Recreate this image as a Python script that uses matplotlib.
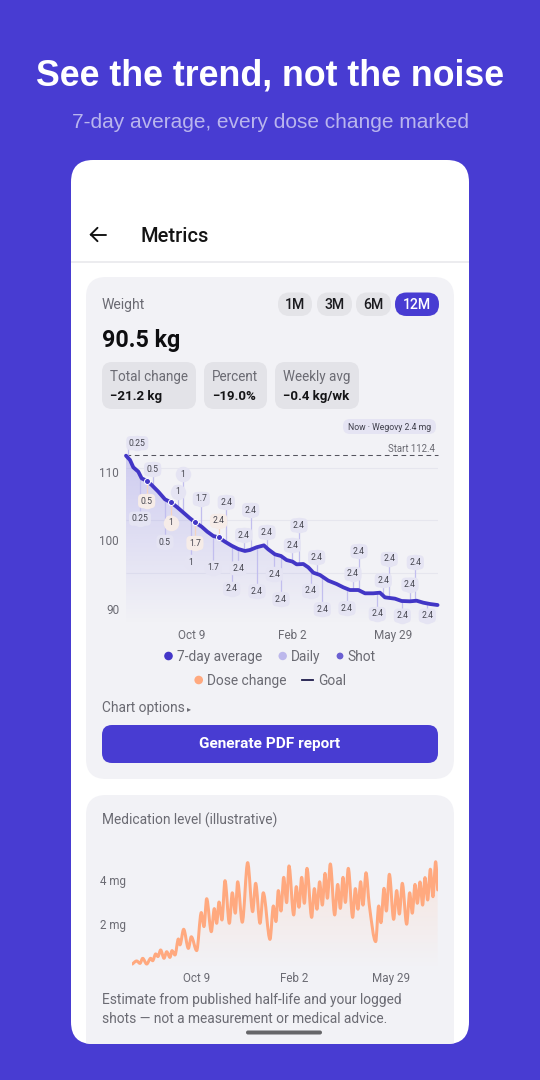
import numpy as np
import matplotlib
matplotlib.use("Agg")
import matplotlib.pyplot as plt
from matplotlib.patches import FancyBboxPatch, PathPatch, Circle
from matplotlib.path import Path
from matplotlib.colors import to_rgb

plt.rcParams['font.family'] = ['Roboto', 'DejaVu Sans']

# ---------- data ----------
avg_days = [0, 4.6, 8.4, 14.1, 18, 23.7, 29.5, 37.1, 44.8, 51.7, 59, 67.8, 73.5, 80, 86.9, 93.4, 100.3, 106.4,
            113.7, 121.4, 129, 136.7, 142.4, 150.1, 158.5, 163.5, 171.2, 178.1, 184.6, 191.5, 196.1, 203.8,
            209.5, 215.3, 223, 232.5, 242.1, 249.8, 257.4, 267, 274.7, 284.2, 291.9, 297.6, 309.1, 316.8,
            326.4, 334, 341.7, 349.3, 358.1]
avg_kg = [112.37, 111.74, 110.67, 110.04, 109.06, 108.72, 108.09, 107.12, 106.0, 105.56, 104.83, 103.86, 103.23,
          102.59, 102.01, 101.28, 100.65, 100.45, 99.82, 99.23, 98.75, 98.46, 98.6, 99.0, 99.28, 98.7, 97.97,
          97.73, 97.14, 96.9, 96.51, 96.56, 96.07, 95.29, 94.95, 94.13, 93.64, 93.15, 92.76, 92.76, 92.28,
          92.28, 92.37, 91.69, 91.5, 91.16, 91.11, 91.2, 90.91, 90.72, 90.57]

shot_days = [2.6, 16, 23.7, 30.6, 44.8, 51.3, 59.3, 65.1, 74.3, 79.2, 86.5, 100.3, 106.4, 115.2, 121.4, 129, 135.2,
             143.2, 150.5, 162, 170.5, 178.1, 191.2, 198.8, 212.2, 219.1, 225.6, 254, 260.9, 267.8, 288.8, 295.7,
             302.6, 317.6, 326.4, 332.5, 346.3]
shot_doses = ['0.25', '0.25', '0.5', '0.5', '0.5', '1', '1', '1', '1', '1.7', '1.7', '1.7', '2.4', '2.4', '2.4',
              '2.4', '2.4', '2.4', '2.4', '2.4', '2.4', '2.4', '2.4', '2.4', '2.4', '2.4', '2.4', '2.4', '2.4',
              '2.4', '2.4', '2.4', '2.4', '2.4', '2.4', '2.4', '2.4']
shot_label_kg = [114.2, 103.18, 105.75, 110.38, 99.77, 102.59, 107.07, 109.65, 96.8, 99.62, 106.05, 96.02, 102.84,
                 105.56, 92.91, 95.93, 100.79, 104.44, 92.57, 101.18, 95.05, 91.4, 99.28, 102.2, 92.62, 97.53,
                 89.94, 90.09, 95.1, 98.41, 89.26, 94.17, 97.29, 89.02, 93.54, 96.8, 89.02]
dose_change_days = [23.7, 51.3, 79.2, 106.4]
start_kg = 112.4
weight_grid = [110.6, 103.0, 95.3]
weight_yticks = [110, 100, 90]
date_ticks = [76, 191, 307]
date_labels = ['Oct 9', 'Feb 2', 'May 29']

med_days = [0.4, 5.6, 9.5, 12.7, 17.5, 22.2, 24.6, 28.2, 30.9, 34.1, 38.1, 41.3, 45.2, 47.6, 51.2, 55.2, 57.1, 61.5,
            67.1, 70.6, 77, 82.5, 85.7, 88.9, 94.4, 98, 100.8, 103.6, 107.1, 110.7, 115.9, 119.4, 123, 125.8, 131.3,
            137.7, 143.6, 147.2, 152.4, 156.3, 164.3, 168.3, 171.4, 174.2, 177.4, 180.6, 184.1, 186.9, 192.5,
            195.6, 198.8, 202, 205.2, 208.3, 213.9, 217.1, 220.2, 223.4, 226.6, 229.8, 232.6, 236.1, 241.3, 244.9,
            248, 251.2, 254, 257.5, 262.7, 265.9, 269, 272.2, 275, 278.6, 282.5, 290.1, 293.7, 296.4, 300, 302.8,
            306.4, 311.5, 315.1, 318.3, 321.8, 327, 330.6, 333.7, 336.9, 339.7, 342.9, 346, 348.8, 352, 355.2,
            358.3, 361.5, 363.9]
med_mg = [.18, .32, .21, .44, .18, .44, .33, .64, .52, .82, .44, .74, .48, .79, .59, 1.32, 1.05, 1.76, .89, 1.42, .79,
          2.52, 1.88, 3.15, 1.65, 2.7, 2.03, 3.0, 2.18, 3.97, 2.03, 3.42, 2.49, 3.92, 2.08, 4.79, 2.56, 3.85, 2.03,
          3.42, 1.3, 2.82, 2.11, 3.52, 2.59, 4.12, 2.97, 4.64, 2.41, 3.7, 2.76, 4.12, 2.94, 4.53, 2.3, 3.61, 2.67,
          3.92, 2.86, 4.3, 3.17, 4.73, 2.41, 3.8, 2.71, 4.12, 2.98, 4.53, 2.3, 3.61, 2.67, 3.92, 2.86, 4.33, 2.86,
          1.2, 2.82, 2.06, 3.62, 2.59, 4.26, 2.21, 3.52, 2.45, 3.85, 1.99, 3.42, 2.49, 3.8, 2.94, 3.91, 2.86, 4.11,
          3.09, 4.49, 3.24, 4.83, 3.55]
med_yticks = [4, 2]
med_ticklabels = ['4 mg', '2 mg']
med_date_ticks = [77, 193, 309]

# ---------- style ----------
INDIGO = '#483CD2'
LINE = '#4236C6'
GREY = '#6B6B73'
ORANGE = '#FFA97F'
PANEL = '#F2F2F6'
W, H = 540, 1080
DPI = 100
px = 72 / DPI

fig = plt.figure(figsize=(W / DPI, H / DPI), dpi=DPI, facecolor=INDIGO)
bg = fig.add_axes([0, 0, 1, 1], zorder=0)
bg.set_xlim(0, W)
bg.set_ylim(H, 0)
bg.axis('off')


def T(x, y, s, size, color=GREY, ha='left', weight='normal', family=None, ax=bg, **kw):
    if family:
        kw['family'] = family
    return ax.text(x, y + 1.3, s, fontsize=size * px, color=color, ha=ha, va='center', fontweight=weight, **kw)


def box(x0, y0, x1, y1, r, fc, z=1, ec='none', lw=0):
    p = FancyBboxPatch((x0, y0), x1 - x0, y1 - y0, boxstyle=f'round,pad=0,rounding_size={r}',
                       fc=fc, ec=ec, lw=lw, zorder=z)
    bg.add_patch(p)
    return p


def smooth(x, y):
    """Bezier path through the read points, flat at each peak and trough."""
    x, y = np.asarray(x, float), np.asarray(y, float)
    slope = np.diff(y) / np.diff(x)
    m = np.zeros_like(y)
    for i in range(1, len(x) - 1):
        if slope[i - 1] * slope[i] > 0:
            m[i] = 2 * slope[i - 1] * slope[i] / (slope[i - 1] + slope[i])
    m[0], m[-1] = slope[0], slope[-1]
    verts = [(x[0], y[0])]
    codes = [Path.MOVETO]
    for i in range(len(x) - 1):
        d = (x[i + 1] - x[i]) / 3
        verts += [(x[i] + d, y[i] + m[i] * d), (x[i + 1] - d, y[i + 1] - m[i + 1] * d), (x[i + 1], y[i + 1])]
        codes += [Path.CURVE4] * 3
    return verts, codes


def gradient_fill(ax, x, y, base, color, a_top, a_bot, z):
    v, c = smooth(x, y)
    v2 = v + [(x[-1], base), (x[0], base), (x[0], y[0])]
    c2 = c + [Path.LINETO, Path.LINETO, Path.CLOSEPOLY]
    n = 128
    rgba = np.ones((n, 1, 4))
    rgba[..., :3] = to_rgb(color)
    rgba[..., 3] = np.linspace(a_top, a_bot, n)[:, None]
    top = max(y)
    im = ax.imshow(rgba, extent=[x[0], x[-1], base, top], aspect='auto', origin='upper', zorder=z, interpolation='bilinear')
    im.set_clip_path(PathPatch(Path(v2, c2), transform=ax.transData))
    return im


# ---------- chrome ----------
T(270, 75, 'See the trend, not the noise', 35.8, 'white', 'center', 'bold', 'Liberation Sans')
T(270, 121.5, '7-day average, every dose change marked', 20.9, '#B9B5EE', 'center', family='Liberation Sans')

card = box(71, 160, 469, 1044, 22, 'white', 1)
bg.plot([71, 469], [262, 262], color='#ECECEF', lw=2 * px, zorder=2, solid_capstyle='butt')
bg.plot([91, 106], [234.5, 234.5], color='#111111', lw=1.9 * px, zorder=3, solid_capstyle='round')
bg.plot([97.5, 90.8, 97.5], [227.8, 234.5, 241.2], color='#111111', lw=1.9 * px, zorder=3,
        solid_capstyle='round', solid_joinstyle='miter')
T(141, 235, 'Metrics', 20, '#141414', zorder=3, weight='medium')

box(86, 277, 454, 779, 20, PANEL, 2)
c2 = box(86, 795, 454, 1080, 20, PANEL, 2)
c2.set_clip_path(card)

T(102, 304, 'Weight', 14, GREY, zorder=3)
for x0, x1, s, fc, col in [(278, 312, '1M', '#E4E4E8', '#1B1B1F'), (317, 352, '3M', '#E4E4E8', '#1B1B1F'),
                           (356, 391, '6M', '#E4E4E8', '#1B1B1F'), (395, 439, '12M', INDIGO, 'white')]:
    box(x0, 292.5, x1, 316, 11.5, fc, 3)
    T((x0 + x1) / 2, 304, s, 14, col, 'center', 'medium', zorder=4)
T(102, 339, '90.5 kg', 23.2, '#0E0E10', weight='bold', zorder=3)
for x0, x1, a, b in [(102, 196, 'Total change', '\u221221.2 kg'), (204, 267, 'Percent', '\u221219.0%'),
                     (275, 359, 'Weekly avg', '\u22120.4 kg/wk')]:
    box(x0, 362, x1, 409, 10, '#E3E3E8', 3)
    T(x0 + 8, 375.5, a, 13.5, GREY, zorder=4)
    T(x0 + 8, 395, b, 13.3, '#141416', weight='bold', zorder=4)

box(343, 419, 436, 434, 7, '#E5E4F3', 3)
T(389.5, 426, 'Now \u00b7 Wegovy 2.4 mg', 8.6, '#3E3E4A', 'center', zorder=4)
T(435, 448, 'Start 112.4', 9.6, GREY, 'right', zorder=4)

# ---------- weight chart ----------
X0, X1, Yt, Yb = 126, 438, 430, 624
ax = fig.add_axes([X0 / W, 1 - Yb / H, (X1 - X0) / W, (Yb - Yt) / H], zorder=3)
ax.patch.set_alpha(0)
for s in ax.spines.values():
    s.set_visible(False)
gradient_fill(ax, avg_days, avg_kg, 87.8, '#8F88E6', 0.36, 0.0, 1)
ax.set_xlim(0, 358.6)
ax.set_ylim(87.8, 116.12)
ax.hlines(weight_grid, 0, 358.6, color='#E6E6EE', lw=0.8, zorder=0.5)
ax.axhline(start_kg, color='#55555E', lw=0.75, dashes=(4.5, 3.5), zorder=2, clip_on=False)
ax.set_yticks(weight_yticks)
ax.set_xticks(date_ticks, date_labels)
ax.tick_params(length=0, labelcolor=GREY, labelsize=11.8 * px)
ax.tick_params(axis='y', pad=5)
ax.tick_params(axis='x', pad=3.6)

base = np.interp(shot_days, avg_days, avg_kg)
for d, b, l, s in zip(shot_days, base, shot_label_kg, shot_doses):
    change = d in dose_change_days
    fc = '#F6ECE8' if change else '#E5E4F3'
    ax.plot([d, d], [b, l], color='#F4D3C0' if change else '#C2BEEE', lw=0.9, zorder=2.2, clip_on=False)
    ax.plot([max(d, 13)], [l], 'o', ms=15.5 * px, mfc=fc, mec='none', zorder=2.4, clip_on=False)
    ax.annotate(s, xy=(max(d, 13), l), ha='center', va='center', fontsize=8.6 * px, color='#45454F',
                zorder=2.5, annotation_clip=False,
                bbox=dict(boxstyle='round,pad=0.3,rounding_size=0.5', fc=fc, ec='none'))
ax.plot(avg_days, avg_kg, color=LINE, lw=3.8 * px, zorder=3, solid_capstyle='round', solid_joinstyle='round', clip_on=False)
ax.plot(dose_change_days, np.interp(dose_change_days, avg_days, avg_kg), 'o', ms=6 * px, mfc=LINE, mec='white',
        mew=1.0 * px, zorder=4, ls='none')

# ---------- legend ----------
for x, y, col, r, s, tx in [(168.5, 656, '#4336C8', 4.3, '7-day average', 177), (282.7, 656, '#BDB8EC', 4.2, 'Daily', 291),
                            (340, 656, '#6B60D2', 3.4, 'Shot', 347), (198.7, 680, ORANGE, 4.3, 'Dose change', 207)]:
    bg.add_patch(Circle((x, y), r, fc=col, ec='none', zorder=3))
    T(tx, y, s, 13.7, GREY, zorder=3)
bg.plot([302, 313], [680, 680], color='#1D1A4A', lw=1.8 * px, zorder=3)
T(318, 680, 'Goal', 13.7, GREY, zorder=3)

T(102, 707, 'Chart options', 13.7, GREY, zorder=3)
T(187, 707, '\u25b8', 8, GREY, zorder=3, family=['DejaVu Sans'])
box(102, 725, 438, 763, 10, INDIGO, 3)
T(270, 743, 'Generate PDF report', 15.4, 'white', 'center', 'bold', zorder=4)

# ---------- medication chart ----------
T(102, 819, 'Medication level (illustrative)', 13.8, GREY, zorder=3)
mX0, mX1, mYt, mYb = 132, 438, 840, 968
ax2 = fig.add_axes([mX0 / W, 1 - mYb / H, (mX1 - mX0) / W, (mYb - mYt) / H], zorder=3)
ax2.patch.set_alpha(0)
for s in ax2.spines.values():
    s.set_visible(False)
gradient_fill(ax2, med_days, med_mg, 0, '#FFC9AE', 0.32, 0.0, 1)
ax2.set_xlim(0, 364.3)
ax2.set_ylim(0, 5.818)
v, c = smooth(med_days, med_mg)
ax2.add_patch(PathPatch(Path(v, c), fc='none', ec=ORANGE, lw=3 * px, zorder=3, capstyle='round', joinstyle='round'))
ax2.set_yticks(med_yticks, med_ticklabels)
ax2.set_xticks(med_date_ticks, date_labels)
ax2.tick_params(length=0, labelcolor=GREY, labelsize=11.6 * px)
ax2.tick_params(axis='y', pad=4)
ax2.tick_params(axis='x', pad=2.6)

T(102, 998.5, 'Estimate from published half-life and your logged', 13.8, GREY, zorder=3)
T(102, 1018, 'shots \u2014 not a measurement or medical advice.', 13.8, GREY, zorder=3)
box(246, 1030.5, 322, 1034.5, 2, '#666669', 6)
fig.savefig('out.png', dpi=DPI, facecolor=INDIGO)
